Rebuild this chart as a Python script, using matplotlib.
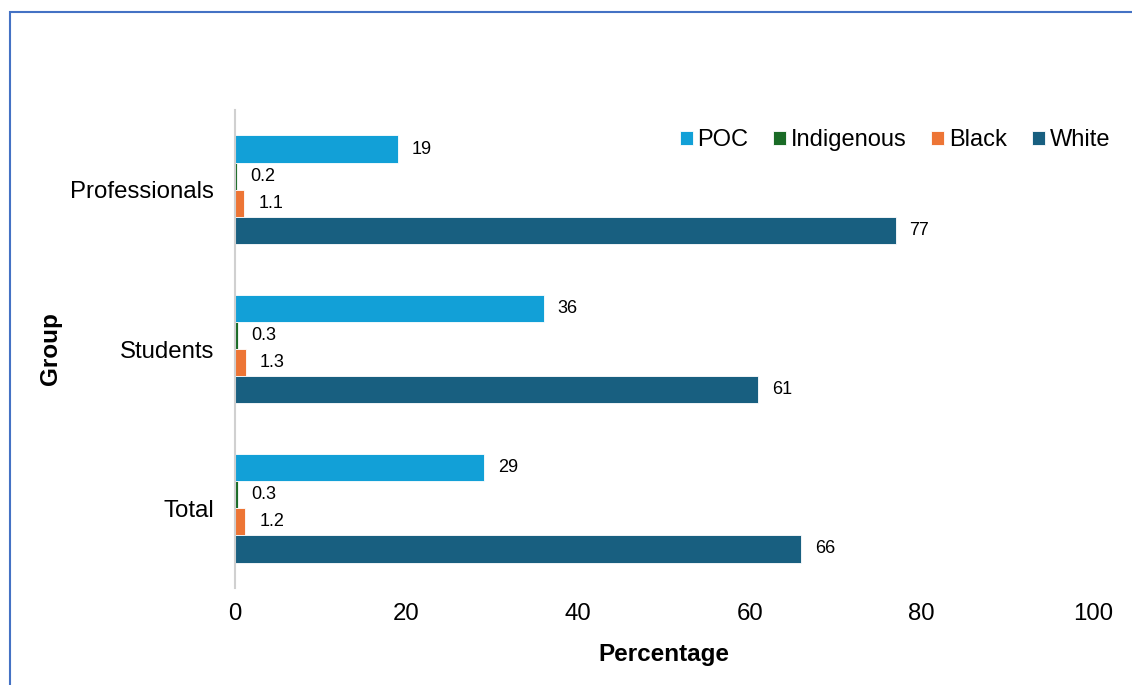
import numpy as np
import matplotlib.pyplot as plt
from matplotlib.patches import Rectangle

plt.rcParams['font.family'] = ['Liberation Sans', 'DejaVu Sans']

groups = ['Professionals', 'Students', 'Total']
series = ['POC', 'Indigenous', 'Black', 'White']
poc = [19, 36, 29]
indigenous = [0.2, 0.3, 0.3]
black = [1.1, 1.3, 1.2]
white = [77, 61, 66]
colors = ['#12a0d7', '#1a6b26', '#ed7535', '#185f80']

values = [poc, indigenous, black, white]


def main():
	fig = plt.figure(figsize=(11.32, 6.85), dpi=100)
	ax = fig.add_axes([235/1132, 1-588/685, (1093-235)/1132, (588-110)/685])

	y = np.arange(len(groups))
	w = 0.17
	for k, (name, vals) in enumerate(zip(series, values)):
		bars = ax.barh(y + (k - 1.5)*w, vals, height=w, color=colors[k], label=name,
			edgecolor='white', linewidth=0.6)
		ax.bar_label(bars, labels=[str(v) for v in vals], padding=10, fontsize=13)

	ax.set_ylim(2.5, -0.5)
	ax.set_xlim(0, 100)
	ax.set_xticks(np.arange(0, 101, 20))
	ax.set_yticks(y, labels=groups)
	ax.tick_params(axis='both', length=0, labelsize=17.3)
	ax.tick_params(axis='x', pad=11)
	ax.tick_params(axis='y', pad=15)

	for s in ['top', 'right', 'bottom']:
		ax.spines[s].set_visible(False)
	ax.spines['left'].set_color('#d0d0d0')
	ax.spines['left'].set_linewidth(1.5)

	ax.set_xlabel('Percentage', fontsize=17.5, fontweight='bold', labelpad=13)
	ax.set_ylabel('Group', fontsize=17.5, fontweight='bold', labelpad=6)

	fig.legend(loc='center right', bbox_to_anchor=(1110/1132, 1-140/685), ncol=4,
		frameon=False, fontsize=17, handlelength=0.55, handleheight=0.55,
		handletextpad=0.2, columnspacing=1.05, borderpad=0, borderaxespad=0)

	fig.patches.append(Rectangle((10/1132, -0.2), 1.2, 1.2 - 12/685,
		transform=fig.transFigure, fill=False, edgecolor='#4472c4', linewidth=1.5))

	fig.savefig('out.png', dpi=100)


if __name__ == '__main__':
	main()
